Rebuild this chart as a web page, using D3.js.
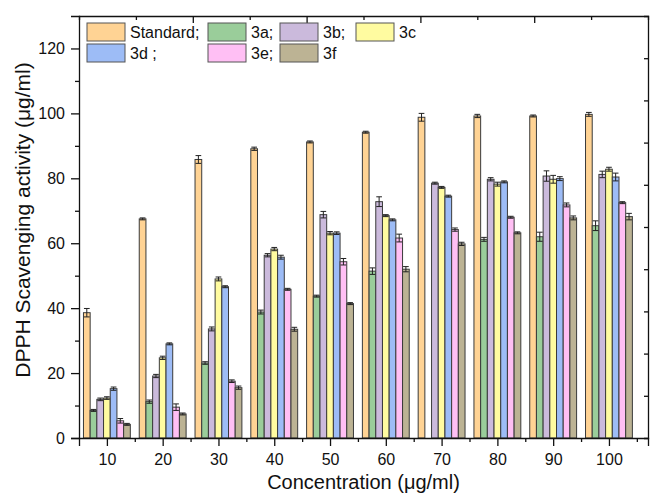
<!DOCTYPE html>
<html>
<head>
<meta charset="utf-8">
<script src="https://cdn.jsdelivr.net/npm/d3@7"></script>
<style>
  body { margin: 0; background: #fff; }
  svg { font-family: "Liberation Sans", Arial, sans-serif; }
</style>
</head>
<body>
<div id="chart"></div>
<script>
// data
const concentrations = [10, 20, 30, 40, 50, 60, 70, 80, 90, 100];
const seriesNames = ["Standard", "3a", "3b", "3c", "3d", "3e", "3f"];
const legendLabels = ["Standard;", "3a;", "3b;", "3c", "3d ;", "3e;", "3f"];
const colors = ["#ffd394", "#9acd9a", "#cbbadc", "#fffba0", "#9dbcf6", "#ffbff4", "#bcb394"];

const standard = [38.6, 67.5, 85.8, 89.1, 91.2, 94.2, 98.8, 99.2, 99.2, 99.7];
const s3a = [8.5, 11.2, 23.1, 38.8, 43.7, 51.4, null, 61.2, 62.0, 65.4];
const s3b = [11.9, 19.1, 33.6, 56.3, 68.8, 72.8, 78.5, 79.7, 80.7, 81.2];
const s3c = [12.3, 24.7, 49.0, 58.2, 63.1, 68.5, 77.2, 78.2, 79.7, 82.8];
const s3d = [15.2, 29.0, 46.6, 55.7, 63.1, 67.2, 74.5, 78.9, 79.9, 80.4];
const s3e = [5.3, 9.5, 17.5, 45.8, 54.3, 61.6, 64.2, 68.0, 71.8, 72.5];
const s3f = [4.2, 7.4, 15.5, 33.5, 41.4, 52.0, 59.8, 63.2, 67.8, 68.2];

const errStandard = [1.3, 0.3, 1.2, 0.5, 0.3, 0.3, 1.2, 0.5, 0.3, 0.6];
const err3a = [0.3, 0.5, 0.4, 0.6, 0.3, 1.0, 0, 0.6, 1.4, 1.5];
const err3b = [0.4, 0.5, 0.6, 0.5, 1.0, 1.5, 0.3, 0.5, 1.6, 1.0];
const err3c = [0.4, 0.5, 0.6, 0.5, 0.5, 0.3, 0.3, 0.6, 1.2, 0.6];
const err3d = [0.5, 0.3, 0.3, 0.6, 0.4, 0.3, 0.3, 0.3, 0.6, 1.2];
const err3e = [0.7, 1.0, 0.4, 0.3, 1.0, 1.2, 0.5, 0.3, 0.6, 0.3];
const err3f = [0.3, 0.3, 0.5, 0.6, 0.3, 0.8, 0.5, 0.3, 0.6, 1.0];

const yTicks = [0, 20, 40, 60, 80, 100, 120];

const values = [standard, s3a, s3b, s3c, s3d, s3e, s3f];
const errors = [errStandard, err3a, err3b, err3c, err3d, err3e, err3f];

// layout
const width = 650, height = 493;
const margin = { top: 16, right: 2, bottom: 55, left: 79 };
const innerW = width - margin.left - margin.right;
const innerH = height - margin.top - margin.bottom;

const svg = d3.select("#chart").append("svg")
  .attr("width", width)
  .attr("height", height);

const g = svg.append("g").attr("transform", `translate(${margin.left},${margin.top})`);

const x = d3.scaleLinear().domain([5, 107]).range([0, innerW]);
const y = d3.scaleLinear().domain([0, 130]).range([innerH, 0]);
const barW = 1.2; // in concentration units

// flatten into bar records
const bars = [];
values.forEach((vals, si) => {
  vals.forEach((v, ci) => {
    if (v == null) return;
    bars.push({ s: si, c: concentrations[ci], v: v, e: errors[si][ci] });
  });
});
const x0 = d => x(d.c + (d.s - 3.5) * barW);
const bw = x(5 + barW) - x(5);

// bars
g.selectAll(".bar")
  .data(bars)
  .enter()
  .append("rect")
  .attr("class", "bar")
  .attr("x", x0)
  .attr("y", d => y(d.v))
  .attr("width", bw)
  .attr("height", d => innerH - y(d.v))
  .style("fill", d => colors[d.s])
  .style("stroke", "#3a3a3a")
  .style("stroke-width", 1);

// error bars
const eb = g.selectAll(".err")
  .data(bars)
  .enter()
  .append("g")
  .attr("class", "err")
  .style("stroke", "#222")
  .style("stroke-width", 1);
eb.append("line")
  .attr("x1", d => x0(d) + bw / 2).attr("x2", d => x0(d) + bw / 2)
  .attr("y1", d => y(d.v - d.e)).attr("y2", d => y(d.v + d.e));
eb.append("line")
  .attr("x1", d => x0(d) + 0.5).attr("x2", d => x0(d) + bw - 0.5)
  .attr("y1", d => y(d.v + d.e)).attr("y2", d => y(d.v + d.e));
eb.append("line")
  .attr("x1", d => x0(d) + 0.5).attr("x2", d => x0(d) + bw - 0.5)
  .attr("y1", d => y(d.v - d.e)).attr("y2", d => y(d.v - d.e));

// axes
const axisFont = sel => sel.selectAll("text")
  .style("font-size", "16px")
  .style("font-family", "'Liberation Sans', Arial, sans-serif")
  .style("fill", "#111");

const xAxis = g.append("g")
  .attr("transform", `translate(0,${innerH})`)
  .call(d3.axisBottom(x).tickValues(concentrations).tickSize(8).tickPadding(8).tickFormat(d3.format("d")));
xAxis.call(axisFont);
g.append("g")
  .attr("transform", `translate(0,${innerH})`)
  .call(d3.axisBottom(x).tickValues(concentrations.map(c => c + 5)).tickSize(4).tickFormat(""))
  .select(".domain").remove();

const yAxis = g.append("g")
  .call(d3.axisLeft(y).tickValues(yTicks).tickSize(8).tickPadding(6));
yAxis.call(axisFont);
g.append("g")
  .call(d3.axisLeft(y).tickValues(yTicks.slice(0, -1).map(t => t + 10)).tickSize(4).tickFormat(""))
  .select(".domain").remove();

// top axis: ten equal divisions, inward ticks
const xTop = d3.scaleLinear().domain([0, 10]).range([0, innerW]);
g.append("g")
  .call(d3.axisTop(xTop).tickValues(d3.range(1, 10)).tickSize(-4).tickFormat(""))
  .selectAll(".tick line").attr("y2", (d) => d % 2 === 0 ? 7 : 4);

// right axis: ten equal divisions, inward ticks
const yRight = d3.scaleLinear().domain([0, 10]).range([innerH, 0]);
g.append("g")
  .attr("transform", `translate(${innerW},0)`)
  .call(d3.axisRight(yRight).tickValues(d3.range(1, 10)).tickSize(-4).tickFormat(""));

g.selectAll(".domain, .tick line").style("stroke", "#111").style("stroke-width", 1.3);

// axis titles
svg.append("text")
  .attr("x", margin.left + innerW / 2)
  .attr("y", 489)
  .attr("text-anchor", "middle")
  .style("font-size", "20px")
  .style("fill", "#111")
  .text("Concentration (μg/ml)");

svg.append("text")
  .attr("transform", `translate(30,${margin.top + 204}) rotate(-90)`)
  .attr("text-anchor", "middle")
  .style("font-size", "21px")
  .style("fill", "#111")
  .text("DPPH Scavenging activity (μg/ml)");

// legend: 4 columns, 2 rows
const legendCols = [87, 208, 280, 356];
const legendItems = seriesNames.map((n, i) => ({
  label: legendLabels[i],
  color: colors[i],
  col: i < 4 ? i : i - 4 + (i === 4 ? 0 : 0),
  row: i < 4 ? 0 : 1
}));
// second row: 3d under Standard, 3e under 3a, 3f under 3b
legendItems.forEach((d, i) => { if (i >= 4) d.col = i - 4; });

const legend = svg.selectAll(".legend")
  .data(legendItems)
  .enter()
  .append("g")
  .attr("class", "legend")
  .attr("transform", d => `translate(${legendCols[d.col]},${23 + d.row * 21})`);
legend.append("rect")
  .attr("width", 38)
  .attr("height", 18)
  .style("fill", d => d.color)
  .style("stroke", "#555")
  .style("stroke-width", 1);
legend.append("text")
  .attr("x", 43)
  .attr("y", 15)
  .style("font-size", "16px")
  .style("fill", "#111")
  .text(d => d.label);
</script>
</body>
</html>
